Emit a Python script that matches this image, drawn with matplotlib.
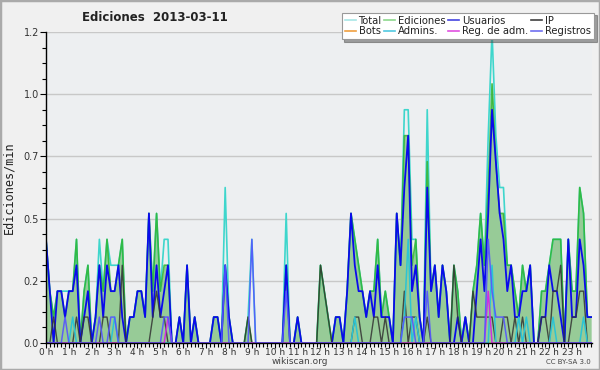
import numpy as np
import matplotlib
matplotlib.use("Agg")
import matplotlib.pyplot as plt
from matplotlib.lines import Line2D
from matplotlib.patches import Rectangle

# ---- data (edits per minute, 10-minute bins, one row per hour) ----
hour_labels = [f"{h} h" for h in range(24)]

total = [
    0.4, 0.2, 0.1, 0.2, 0.2, 0.2,
    0.2, 0.2, 0.4, 0.0, 0.2, 0.3,
    0.0, 0.1, 0.4, 0.2, 0.4, 0.3,
    0.3, 0.3, 0.4, 0.0, 0.1, 0.1,
    0.2, 0.2, 0.1, 0.5, 0.2, 0.5,
    0.2, 0.4, 0.4, 0.0, 0.0, 0.1,
    0.0, 0.3, 0.0, 0.1, 0.0, 0.0,
    0.0, 0.0, 0.1, 0.1, 0.0, 0.6,
    0.1, 0.0, 0.0, 0.0, 0.0, 0.1,
    0.4, 0.0, 0.0, 0.0, 0.0, 0.0,
    0.0, 0.0, 0.0, 0.5, 0.0, 0.0,
    0.1, 0.0, 0.0, 0.0, 0.0, 0.0,
    0.3, 0.2, 0.1, 0.0, 0.1, 0.1,
    0.0, 0.2, 0.5, 0.4, 0.3, 0.2,
    0.1, 0.2, 0.2, 0.4, 0.1, 0.2,
    0.1, 0.0, 0.5, 0.3, 0.9, 0.9,
    0.4, 0.4, 0.1, 0.0, 0.9, 0.2,
    0.3, 0.1, 0.3, 0.2, 0.0, 0.3,
    0.2, 0.0, 0.1, 0.0, 0.2, 0.3,
    0.5, 0.3, 0.8, 1.2, 0.8, 0.6,
    0.6, 0.3, 0.3, 0.2, 0.1, 0.3,
    0.2, 0.3, 0.0, 0.0, 0.2, 0.2,
    0.3, 0.4, 0.4, 0.4, 0.0, 0.4,
    0.2, 0.2, 0.6, 0.5, 0.1, 0.1,
]

ediciones = [
    0.4, 0.2, 0.1, 0.2, 0.2, 0.1,
    0.2, 0.2, 0.4, 0.0, 0.2, 0.3,
    0.0, 0.1, 0.3, 0.2, 0.4, 0.2,
    0.2, 0.3, 0.4, 0.0, 0.1, 0.1,
    0.2, 0.2, 0.1, 0.5, 0.2, 0.5,
    0.2, 0.3, 0.3, 0.0, 0.0, 0.1,
    0.0, 0.3, 0.0, 0.1, 0.0, 0.0,
    0.0, 0.0, 0.1, 0.1, 0.0, 0.3,
    0.1, 0.0, 0.0, 0.0, 0.0, 0.1,
    0.0, 0.0, 0.0, 0.0, 0.0, 0.0,
    0.0, 0.0, 0.0, 0.3, 0.0, 0.0,
    0.1, 0.0, 0.0, 0.0, 0.0, 0.0,
    0.3, 0.2, 0.1, 0.0, 0.1, 0.1,
    0.0, 0.2, 0.5, 0.4, 0.3, 0.2,
    0.1, 0.2, 0.2, 0.4, 0.1, 0.2,
    0.1, 0.0, 0.5, 0.3, 0.8, 0.8,
    0.3, 0.4, 0.1, 0.0, 0.7, 0.2,
    0.3, 0.1, 0.3, 0.2, 0.0, 0.3,
    0.2, 0.0, 0.1, 0.0, 0.2, 0.3,
    0.5, 0.3, 0.6, 1.0, 0.7, 0.5,
    0.5, 0.3, 0.3, 0.2, 0.1, 0.3,
    0.2, 0.3, 0.0, 0.0, 0.2, 0.2,
    0.3, 0.4, 0.4, 0.4, 0.0, 0.4,
    0.2, 0.2, 0.6, 0.5, 0.1, 0.1,
]

usuarios = [
    0.4, 0.2, 0.0, 0.2, 0.2, 0.1,
    0.2, 0.2, 0.3, 0.0, 0.1, 0.2,
    0.0, 0.1, 0.3, 0.1, 0.3, 0.2,
    0.2, 0.3, 0.1, 0.0, 0.1, 0.1,
    0.2, 0.2, 0.1, 0.5, 0.1, 0.3,
    0.1, 0.2, 0.3, 0.0, 0.0, 0.1,
    0.0, 0.3, 0.0, 0.1, 0.0, 0.0,
    0.0, 0.0, 0.1, 0.1, 0.0, 0.3,
    0.1, 0.0, 0.0, 0.0, 0.0, 0.0,
    0.0, 0.0, 0.0, 0.0, 0.0, 0.0,
    0.0, 0.0, 0.0, 0.3, 0.0, 0.0,
    0.1, 0.0, 0.0, 0.0, 0.0, 0.0,
    0.0, 0.0, 0.0, 0.0, 0.1, 0.1,
    0.0, 0.2, 0.5, 0.3, 0.2, 0.2,
    0.1, 0.2, 0.1, 0.3, 0.1, 0.1,
    0.1, 0.0, 0.5, 0.3, 0.6, 0.8,
    0.2, 0.3, 0.1, 0.0, 0.6, 0.2,
    0.3, 0.1, 0.3, 0.2, 0.0, 0.0,
    0.1, 0.0, 0.1, 0.0, 0.0, 0.2,
    0.4, 0.2, 0.5, 0.9, 0.7, 0.5,
    0.4, 0.2, 0.3, 0.1, 0.1, 0.2,
    0.2, 0.3, 0.0, 0.0, 0.1, 0.1,
    0.3, 0.2, 0.2, 0.1, 0.0, 0.4,
    0.1, 0.1, 0.4, 0.3, 0.1, 0.1,
]

ip = [
    0.0, 0.0, 0.1, 0.0, 0.0, 0.0,
    0.0, 0.0, 0.1, 0.0, 0.1, 0.1,
    0.0, 0.0, 0.0, 0.1, 0.1, 0.0,
    0.0, 0.0, 0.3, 0.0, 0.0, 0.0,
    0.0, 0.0, 0.0, 0.0, 0.1, 0.2,
    0.1, 0.1, 0.0, 0.0, 0.0, 0.0,
    0.0, 0.0, 0.0, 0.0, 0.0, 0.0,
    0.0, 0.0, 0.0, 0.0, 0.0, 0.0,
    0.0, 0.0, 0.0, 0.0, 0.0, 0.1,
    0.0, 0.0, 0.0, 0.0, 0.0, 0.0,
    0.0, 0.0, 0.0, 0.0, 0.0, 0.0,
    0.0, 0.0, 0.0, 0.0, 0.0, 0.0,
    0.3, 0.2, 0.1, 0.0, 0.0, 0.0,
    0.0, 0.0, 0.0, 0.1, 0.1, 0.0,
    0.0, 0.0, 0.1, 0.1, 0.0, 0.1,
    0.0, 0.0, 0.0, 0.0, 0.2, 0.0,
    0.1, 0.1, 0.0, 0.0, 0.1, 0.0,
    0.0, 0.0, 0.0, 0.0, 0.0, 0.3,
    0.1, 0.0, 0.0, 0.0, 0.2, 0.1,
    0.1, 0.1, 0.1, 0.1, 0.0, 0.0,
    0.1, 0.1, 0.0, 0.1, 0.0, 0.1,
    0.0, 0.0, 0.0, 0.0, 0.1, 0.1,
    0.0, 0.2, 0.2, 0.3, 0.0, 0.0,
    0.1, 0.1, 0.2, 0.2, 0.0, 0.0,
]

bots = [
    0, 0, 0, 0, 0, 0,  0, 0, 0, 0, 0, 0,  0, 0, 0, 0, 0, 0,  0, 0, 0, 0, 0, 0,
    0, 0, 0, 0, 0, 0,  0, 0, 0, 0, 0, 0,  0, 0, 0, 0, 0, 0,  0, 0, 0, 0, 0, 0,
    0, 0, 0, 0, 0, 0,  0, 0, 0, 0, 0, 0,  0, 0, 0, 0, 0, 0,  0, 0, 0, 0, 0, 0,
    0, 0, 0, 0, 0, 0,  0, 0, 0, 0, 0, 0,  0, 0, 0, 0, 0, 0,  0, 0, 0, 0, 0, 0,
    0, 0, 0, 0, 0, 0,  0, 0, 0, 0, 0, 0,  0, 0, 0, 0, 0, 0,  0, 0, 0, 0, 0, 0,
    0, 0, 0, 0, 0, 0,  0, 0, 0, 0, 0, 0,  0, 0, 0, 0, 0, 0,  0, 0, 0, 0, 0, 0,
]

admins = [
    0.0, 0.0, 0.0, 0.0, 0.0, 0.0,
    0.0, 0.1, 0.0, 0.0, 0.0, 0.0,
    0.0, 0.0, 0.0, 0.0, 0.0, 0.0,
    0.1, 0.0, 0.0, 0.0, 0.0, 0.0,
    0.0, 0.0, 0.0, 0.0, 0.0, 0.0,
    0.0, 0.0, 0.0, 0.0, 0.0, 0.0,
    0.0, 0.0, 0.0, 0.0, 0.0, 0.0,
    0.0, 0.0, 0.0, 0.0, 0.0, 0.0,
    0.0, 0.0, 0.0, 0.0, 0.0, 0.0,
    0.0, 0.0, 0.0, 0.0, 0.0, 0.0,
    0.0, 0.0, 0.0, 0.0, 0.0, 0.0,
    0.0, 0.0, 0.0, 0.0, 0.0, 0.0,
    0.0, 0.0, 0.0, 0.0, 0.0, 0.0,
    0.0, 0.0, 0.0, 0.1, 0.0, 0.0,
    0.0, 0.0, 0.0, 0.0, 0.0, 0.0,
    0.0, 0.0, 0.0, 0.0, 0.1, 0.4,
    0.0, 0.1, 0.0, 0.0, 0.0, 0.0,
    0.0, 0.0, 0.0, 0.0, 0.0, 0.0,
    0.0, 0.0, 0.0, 0.0, 0.0, 0.0,
    0.0, 0.0, 0.0, 0.3, 0.0, 0.0,
    0.0, 0.0, 0.0, 0.0, 0.1, 0.0,
    0.1, 0.0, 0.0, 0.0, 0.0, 0.0,
    0.0, 0.1, 0.0, 0.0, 0.0, 0.0,
    0.0, 0.0, 0.0, 0.1, 0.0, 0.0,
]

reg_adm = [
    0, 0, 0, 0, 0, 0,  0, 0, 0, 0, 0, 0,  0, 0, 0, 0, 0, 0,  0, 0, 0, 0, 0, 0,
    0, 0, 0, 0, 0, 0,  0, 0, 0.1, 0, 0, 0,  0, 0, 0, 0, 0, 0,  0, 0, 0, 0, 0, 0,
    0, 0, 0, 0, 0, 0,  0, 0, 0, 0, 0, 0,  0, 0, 0, 0, 0, 0,  0, 0, 0, 0, 0, 0,
    0, 0, 0, 0, 0, 0,  0, 0, 0, 0, 0, 0,  0, 0, 0, 0, 0, 0,  0, 0, 0, 0, 0, 0,
    0, 0, 0, 0, 0, 0,  0, 0, 0, 0, 0, 0,  0, 0, 0, 0, 0, 0,  0, 0, 0.2, 0, 0, 0,
    0, 0, 0, 0, 0, 0,  0, 0, 0, 0, 0, 0,  0, 0, 0, 0, 0, 0,  0, 0, 0, 0, 0, 0,
]

registros = [
    0.0, 0.0, 0.0, 0.0, 0.0, 0.1,
    0.0, 0.0, 0.0, 0.0, 0.0, 0.0,
    0.0, 0.0, 0.1, 0.0, 0.0, 0.1,
    0.1, 0.0, 0.0, 0.0, 0.0, 0.0,
    0.0, 0.0, 0.0, 0.0, 0.0, 0.0,
    0.0, 0.1, 0.1, 0.0, 0.0, 0.0,
    0.0, 0.0, 0.0, 0.0, 0.0, 0.0,
    0.0, 0.0, 0.0, 0.0, 0.0, 0.3,
    0.0, 0.0, 0.0, 0.0, 0.0, 0.0,
    0.4, 0.0, 0.0, 0.0, 0.0, 0.0,
    0.0, 0.0, 0.0, 0.2, 0.0, 0.0,
    0.0, 0.0, 0.0, 0.0, 0.0, 0.0,
    0.0, 0.0, 0.0, 0.0, 0.0, 0.0,
    0.0, 0.0, 0.0, 0.0, 0.0, 0.0,
    0.0, 0.0, 0.0, 0.0, 0.0, 0.0,
    0.0, 0.0, 0.0, 0.0, 0.1, 0.1,
    0.1, 0.0, 0.0, 0.0, 0.2, 0.0,
    0.0, 0.0, 0.0, 0.0, 0.0, 0.0,
    0.0, 0.0, 0.0, 0.0, 0.0, 0.0,
    0.0, 0.0, 0.4, 0.2, 0.1, 0.1,
    0.1, 0.0, 0.0, 0.0, 0.0, 0.0,
    0.0, 0.0, 0.0, 0.0, 0.0, 0.0,
    0.0, 0.0, 0.0, 0.0, 0.0, 0.0,
    0.0, 0.0, 0.0, 0.0, 0.0, 0.0,
]

y_ticks = [0.0, 0.24, 0.48, 0.72, 0.96, 1.2]

# ---- figure ----
fig = plt.figure(figsize=(6, 3.7), dpi=100, facecolor="#f0f0f0")
ax = fig.add_axes([46 / 600, 27 / 370, 546 / 600, 311 / 370])
ax.set_facecolor("#edeff1")

t = np.arange(len(total)) / 6.0

ax.plot(t, total, color="#3ed6cc", lw=1.2, zorder=3)
ax.fill_between(t, 0, ediciones, color="#97cb97", lw=0, zorder=2)
ax.plot(t, ediciones, color="#2fb52f", lw=1.2, alpha=0.85, zorder=4)
ax.plot(t, usuarios, color="#0a0aec", lw=1.3, zorder=5)
ax.plot(t, ip, color="#333333", lw=1.0, alpha=0.85, zorder=6)
ax.plot(t, bots, color="#f0a030", lw=1.0, zorder=6)
ax.plot(t, admins, color="#2cc4d4", lw=1.1, zorder=6)
ax.plot(t, reg_adm, color="#d030e0", lw=1.1, zorder=6)
ax.plot(t, registros, color="#5555ff", lw=1.1, alpha=0.9, zorder=6)

ax.set_xlim(0, 23.87)
ax.set_ylim(0, 1.2)

ax.set_xticks(range(24))
ax.set_xticklabels(hour_labels)
ax.set_xticks(np.arange(0, 23.9, 1 / 6.0), minor=True)
ax.set_yticks(y_ticks)
ax.set_yticklabels([f"{v:.1f}" for v in y_ticks])
ax.set_yticks(np.arange(0, 1.21, 0.06), minor=True)

ax.tick_params(axis="both", which="both", direction="out", color="black",
               labelcolor="#333333", width=0.8)
ax.tick_params(axis="x", which="major", length=3.5, pad=0, labelsize=6.5)
ax.tick_params(axis="y", which="major", length=4, pad=1, labelsize=7)
ax.tick_params(axis="both", which="minor", length=3)

ax.grid(axis="y", color="#c8c8c8", lw=1.0, zorder=1)
ax.set_axisbelow(True)
for s in ("top", "right"):
    ax.spines[s].set_visible(False)
for s in ("left", "bottom"):
    ax.spines[s].set_color("black")
    ax.spines[s].set_linewidth(1.0)
    ax.spines[s].set_zorder(10)

ax.set_ylabel("Ediciones/min", family="DejaVu Sans Mono", fontsize=8.5,
              color="#222222", labelpad=6)

fig.text(0.258, 0.952, "Ediciones  2013-03-11", ha="center", va="center",
         fontsize=8.5, fontweight="bold", color="#222222")

handles = [
    Line2D([], [], color="#a8e6e6", lw=1.2),  # Total
    Line2D([], [], color="#f0a040", lw=1.2),  # Bots
    Line2D([], [], color="#8cd88c", lw=1.2),  # Ediciones
    Line2D([], [], color="#50c8e0", lw=1.2),  # Admins
    Line2D([], [], color="#4444e0", lw=1.2),  # Usuarios
    Line2D([], [], color="#e050e0", lw=1.2),  # Reg. de adm.
    Line2D([], [], color="#404040", lw=1.2),  # IP
    Line2D([], [], color="#7070f0", lw=1.2),  # Registros
]
labels = ["Total", "Bots", "Ediciones", "Admins.", "Usuarios",
          "Reg. de adm.", "IP", "Registros"]
leg = fig.legend(handles, labels, loc="upper right", ncol=4,
                 bbox_to_anchor=(0.99, 0.966), fontsize=7.2,
                 frameon=True, fancybox=False, shadow=True,
                 handlelength=1.1, handletextpad=0.3, columnspacing=0.25,
                 labelspacing=0.05, borderpad=0.3, borderaxespad=0)
leg.get_frame().set_edgecolor("#999999")
leg.get_frame().set_linewidth(0.8)
leg.get_frame().set_facecolor("white")
for txt in leg.get_texts():
    txt.set_color("#222222")

fig.text(0.5, 0.022, "wikiscan.org", ha="center", va="center",
         fontsize=6.5, color="#444444")
fig.text(0.985, 0.021, "CC BY-SA 3.0", ha="right", va="center",
         fontsize=5, color="#444444")

fig.patches.append(Rectangle((0, 0), 1, 1, transform=fig.transFigure,
                             fill=False, edgecolor="#aaaaaa", lw=2.5))

fig.savefig("out.png", dpi=100, facecolor=fig.get_facecolor())
